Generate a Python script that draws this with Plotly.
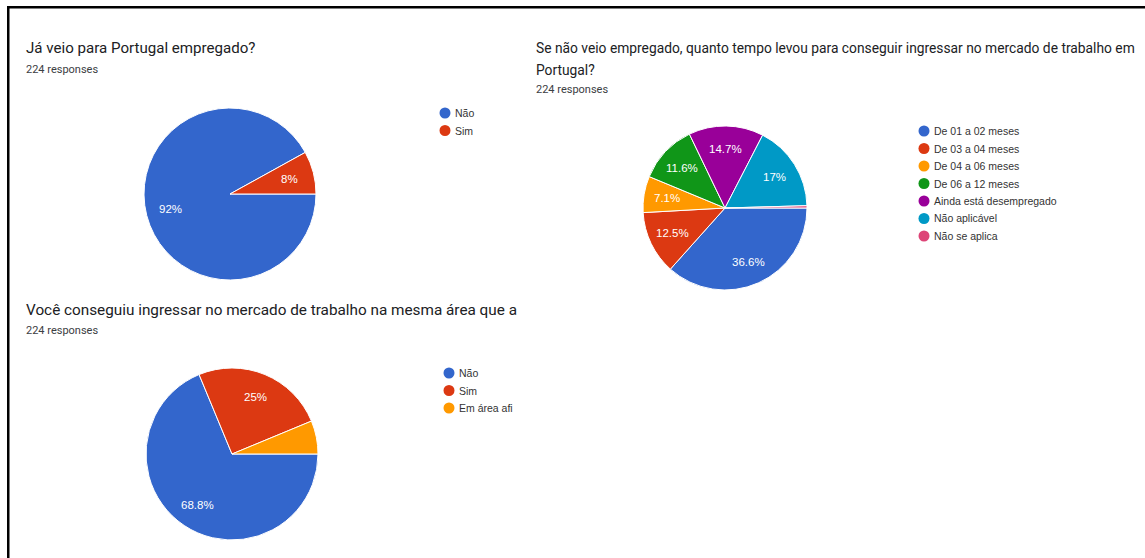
import math
import plotly.graph_objects as go

W, H = 1145, 558

# --- survey data -----------------------------------------------------------
q1_title = ["Já veio para Portugal empregado?"]
q1_labels = ["Não", "Sim"]
q1_counts = [206, 18]

q2_title = ["Se não veio empregado, quanto tempo levou para conseguir ingressar "
            "no mercado de trabalho em",
            "Portugal?"]
q2_labels = ["De 01 a 02 meses", "De 03 a 04 meses", "De 04 a 06 meses",
             "De 06 a 12 meses", "Ainda está desempregado", "Não aplicável",
             "Não se aplica"]
q2_counts = [82, 28, 16, 26, 33, 38, 1]

q3_title = ["Você conseguiu ingressar no mercado de trabalho na mesma área que a"]
q3_labels = ["Não", "Sim", "Em área afi"]
q3_counts = [154, 56, 14]

responses_text = "224 responses"

# Google Forms chart palette
palette = ["#3366CC", "#DC3912", "#FF9900", "#109618", "#990099", "#0099C6", "#DD4477"]

TITLE_FAMILY = "Roboto, Arial, sans-serif"
TITLE_COLOR = "#202124"
TITLE_LINE_GAP = 22
SUB_FONT = dict(family="Roboto, Arial, sans-serif", size=11, color="#3c4043")
LEGEND_FONT = dict(family="Liberation Sans, Arial, sans-serif", size=10.5, color="#333333")
SLICE_FONT = dict(family="Liberation Sans, Arial, sans-serif", size=11.5, color="#ffffff")


def fx(px):
    return px / W


def fy(py):
    return 1 - py / H


def pct_text(v, total):
    s = f"{round(v / total * 100, 1):.1f}".rstrip("0").rstrip(".")
    return s + "%"


# layout of each question block (pixels)
charts = [
    dict(title=q1_title, title_size=15.1, labels=q1_labels, counts=q1_counts,
         title_xy=(24, 48), sub_y=69, center=(230, 194), r=86,
         legend_xy=(445, 113), legend_step=17.5),
    dict(title=q2_title, title_size=13.8, labels=q2_labels, counts=q2_counts,
         title_xy=(534, 48), sub_y=90, center=(725, 208), r=82,
         legend_xy=(924, 131), legend_step=17.5),
    dict(title=q3_title, title_size=15.3, labels=q3_labels, counts=q3_counts,
         title_xy=(24, 310), sub_y=330, center=(232, 454), r=86,
         legend_xy=(449, 373), legend_step=17.5),
]

fig = go.Figure()
annotations = []
shapes = []

for ch in charts:
    cx, cy = ch["center"]
    r = ch["r"]
    counts = ch["counts"]
    labels = ch["labels"]
    total = sum(counts)
    colors = palette[:len(counts)]

    fig.add_trace(go.Pie(
        labels=labels, values=counts, sort=False,
        direction="clockwise", rotation=90,
        marker=dict(colors=colors, line=dict(color="#ffffff", width=1)),
        textinfo="none", showlegend=False, hoverinfo="label+percent",
        domain=dict(x=[fx(cx - r), fx(cx + r)], y=[fy(cy + r), fy(cy - r)]),
    ))

    # percentage labels on the bisector of each slice
    cum = 0
    for v in counts:
        mid = (cum + v / 2) / total
        cum += v
        if v / total < 0.07:
            continue
        a = math.radians(-mid * 360)
        lx = cx + 0.715 * r * math.cos(a)
        ly = cy - 0.715 * r * math.sin(a)
        annotations.append(dict(x=fx(lx), y=fy(ly), xref="paper", yref="paper",
                                text=pct_text(v, total), showarrow=False,
                                xanchor="center", yanchor="middle", font=SLICE_FONT))

    # question title (one annotation per wrapped line) and response count
    tx, ty = ch["title_xy"]
    size = ch["title_size"]
    for k, line in enumerate(ch["title"]):
        annotations.append(dict(x=fx(tx), y=fy(ty + k * TITLE_LINE_GAP),
                                xref="paper", yref="paper",
                                text=line, showarrow=False,
                                xanchor="left", yanchor="middle",
                                font=dict(family=TITLE_FAMILY, size=size, color=TITLE_COLOR)))
    annotations.append(dict(x=fx(tx), y=fy(ch["sub_y"]), xref="paper", yref="paper",
                            text=responses_text, showarrow=False,
                            xanchor="left", yanchor="middle", font=SUB_FONT))

    # legend: round swatch + label
    lx0, ly0 = ch["legend_xy"]
    for i, (lab, col) in enumerate(zip(labels, colors)):
        yy = ly0 + i * ch["legend_step"]
        shapes.append(dict(type="circle", xref="paper", yref="paper",
                           xsizemode="pixel", ysizemode="pixel",
                           xanchor=fx(lx0), yanchor=fy(yy),
                           x0=-5.5, x1=5.5, y0=-5.5, y1=5.5,
                           fillcolor=col, line=dict(width=0)))
        annotations.append(dict(x=fx(lx0 + 8), y=fy(yy), xref="paper", yref="paper",
                                text=lab, showarrow=False,
                                xanchor="left", yanchor="middle", font=LEGEND_FONT))

# frame lines along the top and left edges
shapes.append(dict(type="rect", xref="paper", yref="paper",
                   x0=fx(7), x1=1, y0=fy(8.5), y1=fy(6),
                   fillcolor="#000000", line=dict(width=0)))
shapes.append(dict(type="rect", xref="paper", yref="paper",
                   x0=fx(7), x1=fx(9.5), y0=0, y1=fy(6),
                   fillcolor="#000000", line=dict(width=0)))

fig.update_layout(
    width=W, height=H, autosize=False,
    margin=dict(l=0, r=0, t=0, b=0),
    paper_bgcolor="#ffffff", plot_bgcolor="#ffffff",
    annotations=annotations, shapes=shapes,
)

fig.write_html("out.html", config={"displayModeBar": False})
